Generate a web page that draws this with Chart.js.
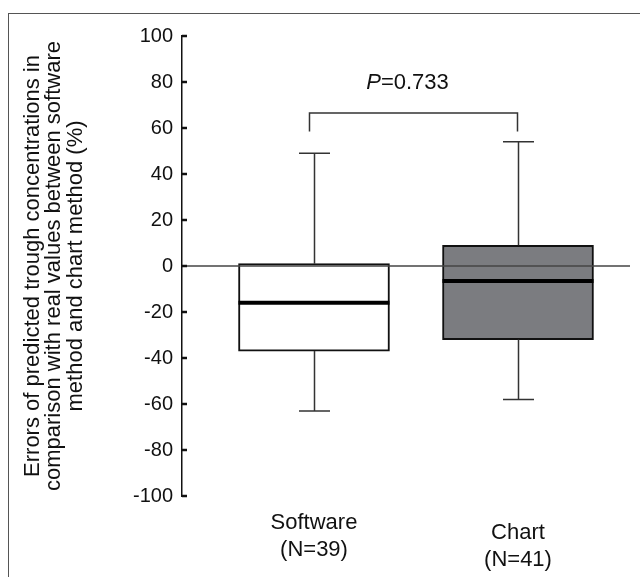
<!DOCTYPE html>
<html>
<head>
<meta charset="utf-8">
<script src="https://cdn.jsdelivr.net/npm/chart.js@4"></script>
<style>
  html, body { margin: 0; padding: 0; background: #fff; }
  #wrap { width: 640px; height: 577px; }
</style>
</head>
<body>
<div id="wrap"><canvas id="boxChart" width="640" height="577"></canvas></div>
<script>
// Box plot values (%)
const groups = ['Software', 'Chart'];
const groupN = [39, 41];
const whiskerLow = [-63, -58];
const q1 = [-37, -32];
const medians = [-16, -6.5];
const q3 = [1, 9];
const whiskerHigh = [49, 54];
const boxColors = ['#ffffff', '#7b7c80'];

// y axis ticks
const yMin = -100;
const yMax = 100;
const yStep = 20;

// significance bracket
const bracketTop = 66.5;
const bracketLeg = 58.5;
const pText = '0.733';

const yTitle = [
  'Errors of predicted trough concentrations in',
  'comparison with real values between software',
  'method and chart method (%)'
];

const FONT = '"Liberation Sans", Arial, sans-serif';

// draws whiskers, medians, zero line, inside ticks, bracket and category labels
const boxExtras = {
  id: 'boxExtras',
  afterDatasetsDraw(chart) {
    const ctx = chart.ctx;
    const x = chart.scales.x;
    const y = chart.scales.y;
    const area = chart.chartArea;
    const bars = chart.getDatasetMeta(0).data;
    const cap = 31;

    ctx.save();
    ctx.lineCap = 'butt';

    // whiskers
    ctx.strokeStyle = '#333';
    ctx.lineWidth = 1.5;
    groups.forEach((g, i) => {
      const cx = Math.round(x.getPixelForValue(i)) + 0.5;
      const yHi = y.getPixelForValue(whiskerHigh[i]);
      const yLo = y.getPixelForValue(whiskerLow[i]);
      ctx.beginPath();
      ctx.moveTo(cx, y.getPixelForValue(q3[i]));
      ctx.lineTo(cx, yHi);
      ctx.moveTo(cx - cap / 2, yHi);
      ctx.lineTo(cx + cap / 2, yHi);
      ctx.moveTo(cx, y.getPixelForValue(q1[i]));
      ctx.lineTo(cx, yLo);
      ctx.moveTo(cx - cap / 2, yLo);
      ctx.lineTo(cx + cap / 2, yLo);
      ctx.stroke();
    });

    // zero line (on top of the boxes)
    const y0 = y.getPixelForValue(0);
    ctx.strokeStyle = '#444';
    ctx.lineWidth = 1.5;
    ctx.beginPath();
    ctx.moveTo(area.left, y0);
    ctx.lineTo(area.right, y0);
    ctx.stroke();

    // medians
    ctx.strokeStyle = '#000';
    ctx.lineWidth = 4;
    groups.forEach((g, i) => {
      const b = bars[i];
      const ym = y.getPixelForValue(medians[i]);
      ctx.beginPath();
      ctx.moveTo(b.x - b.width / 2, ym);
      ctx.lineTo(b.x + b.width / 2, ym);
      ctx.stroke();
    });

    // small tick marks on the inside of the y axis
    ctx.strokeStyle = '#111';
    ctx.lineWidth = 2.5;
    y.ticks.forEach(t => {
      const ty = y.getPixelForValue(t.value);
      ctx.beginPath();
      ctx.moveTo(area.left, ty);
      ctx.lineTo(area.left + 5, ty);
      ctx.stroke();
    });

    // bracket
    const bx1 = x.getPixelForValue(0) - 4.5;
    const bx2 = x.getPixelForValue(1) - 0.5;
    const by = y.getPixelForValue(bracketTop);
    const bl = y.getPixelForValue(bracketLeg);
    ctx.strokeStyle = '#333';
    ctx.lineWidth = 1.5;
    ctx.beginPath();
    ctx.moveTo(bx1, bl);
    ctx.lineTo(bx1, by);
    ctx.lineTo(bx2, by);
    ctx.lineTo(bx2, bl);
    ctx.stroke();

    // P value
    ctx.fillStyle = '#111';
    ctx.textBaseline = 'middle';
    ctx.textAlign = 'left';
    ctx.font = 'italic 22px ' + FONT;
    const wP = ctx.measureText('P').width;
    ctx.font = '22px ' + FONT;
    const wRest = ctx.measureText('=' + pText).width;
    const px = (bx1 + bx2) / 2 - 6 - (wP + wRest) / 2;
    const py = y.getPixelForValue(79.5);
    ctx.font = 'italic 22px ' + FONT;
    ctx.fillText('P', px, py);
    ctx.font = '22px ' + FONT;
    ctx.fillText('=' + pText, px + wP, py);

    // category labels
    ctx.textAlign = 'center';
    ctx.font = '22px ' + FONT;
    groups.forEach((g, i) => {
      const cx = x.getPixelForValue(i);
      const ly = area.bottom + 27 + i * 10;
      ctx.fillText(g, cx, ly);
      ctx.fillText('(N=' + groupN[i] + ')', cx, ly + 27);
    });

    // figure frame
    ctx.strokeStyle = '#555';
    ctx.lineWidth = 1;
    ctx.strokeRect(8.5, 13.5, 700, 700);

    ctx.restore();
  }
};

new Chart(document.getElementById('boxChart'), {
  type: 'bar',
  data: {
    datasets: [{
      data: groups.map((g, i) => ({ x: i, y: [q1[i], q3[i]] })),
      backgroundColor: boxColors,
      borderColor: '#111',
      borderWidth: 2,
      borderSkipped: false,
      barThickness: 151
    }]
  },
  options: {
    responsive: false,
    devicePixelRatio: 1,
    animation: false,
    layout: {
      padding: { top: 36, right: 10, bottom: 81, left: 0 }
    },
    plugins: {
      legend: { display: false },
      tooltip: { enabled: false }
    },
    scales: {
      x: {
        type: 'linear',
        offset: false,
        min: -0.647,
        max: 1.549,
        display: false
      },
      y: {
        min: yMin,
        max: yMax,
        afterFit(scale) { scale.width = 182; },
        ticks: {
          stepSize: yStep,
          padding: 9,
          color: '#111',
          font: { family: FONT, size: 20 }
        },
        grid: { drawOnChartArea: false, drawTicks: false },
        border: { display: true, color: '#111', width: 1.5 },
        title: {
          display: true,
          text: yTitle,
          color: '#111',
          font: { family: FONT, size: 22, lineHeight: 0.98 },
          padding: { top: 22, bottom: 0 }
        }
      }
    }
  },
  plugins: [boxExtras]
});
</script>
</body>
</html>
